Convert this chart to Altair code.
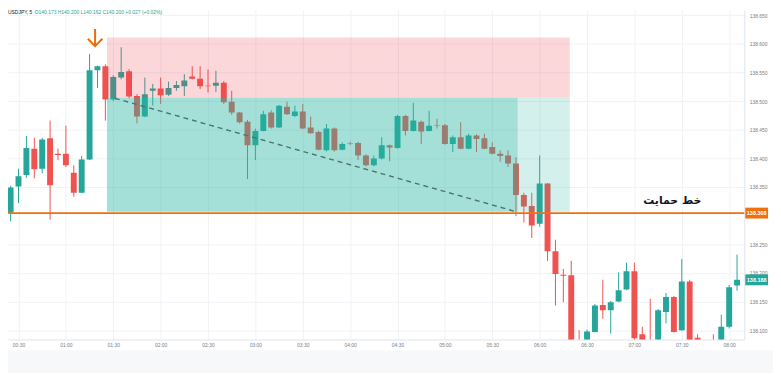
import json
import altair as alt
import pandas as pd

# ---------------- data ----------------
start_minute = 25          # first candle 00:25, 5-minute candles
interval = 5

open_ = [138.305, 138.351, 138.371, 138.417, 138.382, 138.435, 138.408, 138.408, 138.375, 138.340,
         138.398, 138.554, 138.561, 138.503, 138.541, 138.552, 138.509, 138.473, 138.518, 138.522,
         138.511, 138.523, 138.526, 138.543, 138.539, 138.527, 138.527, 138.532, 138.499, 138.480,
         138.464, 138.423, 138.448, 138.480, 138.454, 138.490, 138.474, 138.482, 138.454, 138.446,
         138.414, 138.452, 138.415, 138.427, 138.427, 138.405, 138.388, 138.400, 138.423, 138.418,
         138.474, 138.448, 138.464, 138.448, 138.458, 138.458, 138.425, 138.437, 138.417, 138.440,
         138.435, 138.420, 138.408, 138.405, 138.391, 138.336, 138.317, 138.286, 138.356, 138.238,
         138.197, 138.196, 138.078, 138.078, 138.097, 138.144, 138.135, 138.150, 138.171, 138.203,
         138.093, 138.078, 138.080, 138.132, 138.158, 138.100, 138.185, 138.087, 138.070, 138.081,
         138.078, 138.106, 138.178]
high = [138.352, 138.382, 138.439, 138.436, 138.436, 138.466, 138.417, 138.457, 138.388, 138.404,
        138.582, 138.562, 138.564, 138.545, 138.594, 138.556, 138.512, 138.541, 138.530, 138.541,
        138.534, 138.535, 138.547, 138.561, 138.561, 138.555, 138.553, 138.535, 138.518, 138.481,
        138.467, 138.452, 138.483, 138.484, 138.493, 138.499, 138.492, 138.495, 138.473, 138.448,
        138.460, 138.454, 138.428, 138.429, 138.429, 138.407, 138.405, 138.437, 138.424, 138.476,
        138.476, 138.497, 138.466, 138.483, 138.469, 138.460, 138.440, 138.463, 138.443, 138.442,
        138.443, 138.428, 138.414, 138.414, 138.402, 138.340, 138.340, 138.405, 138.357, 138.258,
        138.207, 138.221, 138.100, 138.101, 138.146, 138.188, 138.151, 138.201, 138.218, 138.218,
        138.106, 138.155, 138.137, 138.165, 138.160, 138.224, 138.188, 138.093, 138.082, 138.093,
        138.127, 138.179, 138.232]
low = [138.290, 138.322, 138.366, 138.365, 138.374, 138.293, 138.397, 138.385, 138.333, 138.339,
       138.397, 138.523, 138.466, 138.500, 138.538, 138.505, 138.461, 138.472, 138.492, 138.495,
       138.509, 138.518, 138.509, 138.538, 138.521, 138.515, 138.516, 138.495, 138.476, 138.461,
       138.364, 138.397, 138.447, 138.452, 138.453, 138.476, 138.472, 138.451, 138.443, 138.414,
       138.412, 138.412, 138.414, 138.423, 138.397, 138.386, 138.386, 138.398, 138.395, 138.417,
       138.440, 138.447, 138.425, 138.447, 138.452, 138.424, 138.411, 138.416, 138.416, 138.411,
       138.416, 138.407, 138.394, 138.385, 138.299, 138.288, 138.261, 138.281, 138.221, 138.143,
       138.149, 138.060, 138.062, 138.075, 138.096, 138.120, 138.094, 138.149, 138.170, 138.080,
       138.075, 138.065, 138.076, 138.112, 138.096, 138.099, 138.068, 138.070, 138.065, 138.068,
       138.075, 138.103, 138.169]
close = [138.349, 138.369, 138.418, 138.381, 138.433, 138.353, 138.406, 138.388, 138.340, 138.398,
         138.554, 138.561, 138.503, 138.542, 138.551, 138.508, 138.473, 138.512, 138.522, 138.510,
         138.523, 138.528, 138.536, 138.539, 138.526, 138.526, 138.532, 138.498, 138.480, 138.463,
         138.423, 138.448, 138.477, 138.454, 138.492, 138.477, 138.482, 138.452, 138.444, 138.415,
         138.452, 138.414, 138.425, 138.426, 138.405, 138.388, 138.400, 138.423, 138.419, 138.474,
         138.448, 138.466, 138.447, 138.457, 138.457, 138.425, 138.437, 138.417, 138.440, 138.434,
         138.417, 138.408, 138.404, 138.391, 138.336, 138.316, 138.283, 138.356, 138.238, 138.198,
         138.195, 138.070, 138.070, 138.098, 138.143, 138.135, 138.149, 138.170, 138.203, 138.086,
         138.080, 138.070, 138.135, 138.158, 138.097, 138.185, 138.075, 138.076, 138.080, 138.072,
         138.106, 138.175, 138.188]

time_ticks = [30, 60, 90, 120, 150, 180, 210, 240, 270, 300, 330, 360, 390, 420, 450, 480]
time_labels = ["00:30", "01:00", "01:30", "02:00", "02:30", "03:00", "03:30", "04:00",
               "04:30", "05:00", "05:30", "06:00", "06:30", "07:00", "07:30", "08:00"]
price_ticks = [138.10, 138.15, 138.20, 138.25, 138.35, 138.40, 138.45, 138.50, 138.55, 138.60, 138.65]

# short-position tool zones
zone_names = ["loss", "profit_hit", "profit_rest"]
zone_t1 = [86.0, 86.0, 346.1]
zone_t2 = [379.1, 346.1, 379.1]
zone_p1 = [138.506, 138.307, 138.307]
zone_p2 = [138.611, 138.506, 138.506]

trend_t = [91, 345]
trend_p = [138.505, 138.307]

support_price = 138.3045
support_label_text = "138.308"
last_price = 138.188
last_label_text = "138.188"

support_text = "خط حمایت"
support_text_t = 444.0
support_text_p = 138.325

arrow_t = [78.5]
arrow_p = [138.611]

header_symbol = "USDJPY, 5"
header_values = "O140.173  H140.200  L140.162  C140.200  +0.027 (+0.02%)"

# ---------------- tables ----------------
n = len(open_)
df = pd.DataFrame({
    "t": [start_minute + interval * i for i in range(n)],
    "open": open_, "high": high, "low": low, "close": close,
})
df["dir"] = ["up" if c >= o else "down" for o, c in zip(open_, close)]

zones = pd.DataFrame({"zone": zone_names, "t1": zone_t1, "t2": zone_t2, "p1": zone_p1, "p2": zone_p2})
trend = pd.DataFrame({"t": trend_t, "p": trend_p})
stext = pd.DataFrame({"t": [support_text_t], "p": [support_text_p], "txt": [support_text]})
arrow = pd.DataFrame({"t": arrow_t, "p": arrow_p})
one = pd.DataFrame({"a": [0]})

FONT = "Liberation Sans"
GRID = "#f0f2f6"
LABEL = "#7a7d86"
UP = "#26a69a"
DOWN = "#ef5350"
ORANGE = "#f0700e"

xs = alt.Scale(domain=[26.48, 486.45], nice=False, zero=False)
ys = alt.Scale(domain=[138.0839, 138.6592], nice=False, zero=False)
xaxis = alt.Axis(values=time_ticks, labelExpr=json.dumps(time_labels) + "[round((datum.value-30)/30)]",
                 title=None, grid=True, gridColor=GRID, ticks=False, domain=True, domainColor="#e0e3eb",
                 labelFontSize=5, labelColor=LABEL, labelPadding=3, labelFont=FONT)
yaxis = alt.Axis(orient="right", values=price_ticks, format=".3f", title=None, grid=True, gridColor=GRID,
                 ticks=False, domain=True, domainColor="#e0e3eb", labelFontSize=5, labelColor=LABEL,
                 labelPadding=5, labelFont=FONT)


def X(f):
    return alt.X(f, type="quantitative", scale=xs, axis=xaxis)


def Y(f):
    return alt.Y(f, type="quantitative", scale=ys, axis=yaxis)


bottom_band = alt.Chart(one).mark_rect(color="#f7f8fa").encode(
    x=alt.value(-8), x2=alt.value(773), y=alt.value(344), y2=alt.value(367))


def candles(direction, color):
    base = alt.Chart(df).transform_filter(alt.datum.dir == direction)
    w = base.mark_rule(strokeWidth=1, clip=True, color=color).encode(x=X("t"), y=Y("low"), y2="high")
    b = base.mark_bar(size=6, clip=True, color=color).encode(x=X("t"), y=Y("open"), y2="close")
    return [w, b]


def zone_layer(name, color, alpha):
    return alt.Chart(zones).transform_filter(alt.datum.zone == name).mark_rect(
        clip=True, color=color, opacity=alpha).encode(x=X("t1"), x2="t2", y=Y("p1"), y2="p2")


loss_zone = zone_layer("loss", "#f23645", 0.2)
hit_zone = zone_layer("profit_hit", "#26b4a0", 0.42)
rest_zone = zone_layer("profit_rest", "#26b4a0", 0.2)

trend_line = alt.Chart(trend).mark_line(color="#4d7470", strokeDash=[5, 4], strokeWidth=1.4).encode(
    x=X("t"), y=Y("p"))

support_rule = alt.Chart(pd.DataFrame({"p": [support_price]})).mark_rule(
    color=ORANGE, strokeWidth=1.6).encode(y=Y("p"))

support_label = alt.Chart(stext).mark_text(font="DejaVu Sans", fontWeight="bold", fontSize=11,
                                           color="#131722", align="center", baseline="middle").encode(
    x=X("t"), y=Y("p"), text="txt:N")

arrow_layer = alt.Chart(arrow).mark_point(
    shape="M0,-1L0,1M-0.85,0.15L0,1L0.85,0.15", filled=False, size=300, strokeWidth=2,
    color="#ef6c00", opacity=1).encode(x=X("t"), y=Y("p"))


def price_box(price, label, color):
    d = pd.DataFrame({"price": [price], "label": [label]})
    r = alt.Chart(d).transform_calculate(
        lo="datum.price - 0.0095", hi="datum.price + 0.0095").mark_rect(color=color).encode(
        x=alt.value(745), x2=alt.value(768), y=Y("lo:Q"), y2="hi:Q")
    t = alt.Chart(d).mark_text(fontSize=5.5, fontWeight="bold", color="white", font=FONT,
                               align="center", baseline="middle").encode(
        x=alt.value(756.5), y=Y("price"), text="label:N")
    return [r, t]


head1 = alt.Chart(one).mark_text(text=header_symbol, fontSize=5, color="#131722", font=FONT,
                                 align="left", baseline="middle").encode(x=alt.value(0), y=alt.value(2))
head2 = alt.Chart(one).mark_text(text=header_values, fontSize=5, color=UP, font=FONT,
                                 align="left", baseline="middle").encode(x=alt.value(27), y=alt.value(2))

layers = [bottom_band]
layers += candles("up", UP)
layers += candles("down", DOWN)
layers += [loss_zone, hit_zone, rest_zone, trend_line, support_rule, support_label, arrow_layer]
layers += price_box(support_price, support_label_text, ORANGE)
layers += price_box(last_price, last_label_text, UP)
layers += [head1, head2]

chart = alt.layer(*layers).properties(
    width=744, height=333,
    autosize=alt.AutoSizeParams(type="none"),
    padding={"left": 0, "top": 0, "right": 29, "bottom": 34},
    background="white",
).configure_view(stroke=None)

chart.save("out.html", embed_options={"renderer": "svg", "actions": False})
